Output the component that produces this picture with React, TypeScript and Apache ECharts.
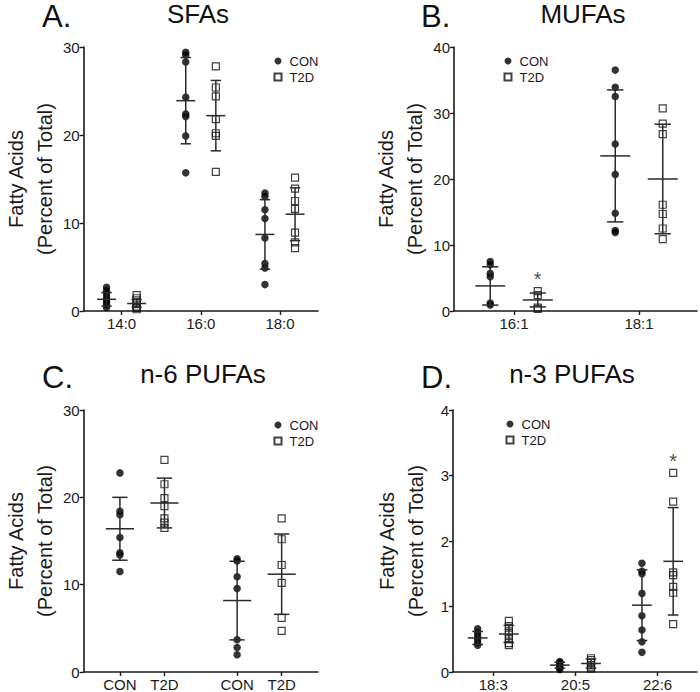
import React, { useEffect, useRef } from "react";
import * as echarts from "echarts";

// ---------- DATA ----------
// A. SFAs
const sfaCategories = ["14:0", "16:0", "18:0"];
const sfaCon = [
  [2.7, 2.3, 2.0, 1.6, 1.3, 1.0, 0.7, 0.4],
  [29.4, 29.1, 28.3, 24.3, 22.4, 22.1, 19.9, 15.7],
  [13.4, 13.0, 11.5, 10.5, 8.3, 5.4, 4.9, 3.0],
];
const sfaT2d = [
  [1.8, 1.45, 1.2, 0.9, 0.5, 0.35, 0.2],
  [27.8, 25.4, 24.4, 21.8, 20.2, 19.9, 15.8],
  [15.15, 13.9, 12.5, 11.6, 8.9, 7.8, 7.15],
];
const sfaConMean = [1.33, 23.9, 8.7];
const sfaConSd = [0.77, 4.9, 3.95];
const sfaT2dMean = [0.85, 22.2, 11.0];
const sfaT2dSd = [0.45, 4.0, 3.0];
const sfaT2dSignificant = [false, false, false];

// B. MUFAs
const mufaCategories = ["16:1", "18:1"];
const mufaCon = [
  [7.5, 7.0, 5.7, 5.2, 1.2, 0.9],
  [36.5, 33.9, 32.5, 25.3, 20.7, 14.8, 12.2, 11.9],
];
const mufaT2d = [
  [3.0, 2.4, 0.5, 0.3],
  [30.7, 28.4, 26.8, 16.1, 14.7, 12.5, 10.9],
];
const mufaConMean = [3.8, 23.5];
const mufaConSd = [2.9, 10.0];
const mufaT2dMean = [1.67, 20.0];
const mufaT2dSd = [1.05, 8.3];
const mufaT2dSignificant = [true, false];

// C. n-6 PUFAs (x labels are the group names under each column)
const n6Labels = ["CON", "T2D", "CON", "T2D"];
const n6Con = [
  [22.8, 18.4, 18.0, 15.4, 13.65, 13.4, 11.5],
  [12.97, 12.7, 10.9, 9.55, 3.7, 2.8, 1.97],
];
const n6T2d = [
  [24.3, 21.5, 19.9, 19.0, 17.6, 17.1, 16.5],
  [17.6, 15.2, 12.25, 10.2, 6.2, 4.7],
];
const n6ConMean = [16.4, 8.18];
const n6ConSd = [3.6, 4.5];
const n6T2dMean = [19.35, 11.2];
const n6T2dSd = [2.85, 4.6];
const n6T2dSignificant = [false, false];

// D. n-3 PUFAs
const n3Categories = ["18:3", "20:5", "22:6"];
const n3Con = [
  [0.66, 0.6, 0.55, 0.5, 0.45, 0.41],
  [0.16, 0.14, 0.11, 0.09, 0.06, 0.04],
  [1.66, 1.54, 1.5, 1.2, 0.86, 0.64, 0.46, 0.3],
];
const n3T2d = [
  [0.78, 0.7, 0.62, 0.57, 0.5, 0.44, 0.41],
  [0.21, 0.18, 0.14, 0.1, 0.07, 0.05],
  [3.04, 2.6, 1.52, 1.48, 1.3, 1.21, 0.73],
];
const n3ConMean = [0.52, 0.105, 1.02];
const n3ConSd = [0.1, 0.045, 0.54];
const n3T2dMean = [0.58, 0.13, 1.69];
const n3T2dSd = [0.13, 0.07, 0.82];
const n3T2dSignificant = [false, false, true];

// ---------- STYLE / LAYOUT ----------
const INK = "#1a1a1a";
const FONT = "Liberation Sans, Arial, sans-serif";
const X_OFF = 0.19;
const MEAN_HALF = 0.12;
const CAP_HALF = 0.065;

type PanelLayout = {
  left: number; top: number; width: number; height: number;
  xMin: number; xMax: number; yMax: number; yInt: number;
  legendLeft: number; legendTop: number;
  letter: string; lx: number; ly: number; title: string; tx: number; ty: number;
};

const layouts: PanelLayout[] = [
  { left: 72, top: 47, width: 246, height: 264, xMin: 0.52, xMax: 3.48, yMax: 30, yInt: 10,
    legendLeft: 273.5, legendTop: 54.5, letter: "A.", lx: 42, ly: 16, title: "SFAs", tx: 198, ty: 13.5 },
  { left: 454, top: 47, width: 243, height: 264, xMin: 0.52, xMax: 2.464, yMax: 40, yInt: 10,
    legendLeft: 503.5, legendTop: 54.5, letter: "B.", lx: 421, ly: 16, title: "MUFAs", tx: 583, ty: 13.5 },
  { left: 72, top: 410, width: 246, height: 263, xMin: 0.5, xMax: 2.5, yMax: 30, yInt: 10,
    legendLeft: 273.5, legendTop: 418.5, letter: "C.", lx: 42, ly: 377.5, title: "n-6 PUFAs", tx: 203, ty: 374 },
  { left: 453, top: 410, width: 244, height: 263, xMin: 0.51, xMax: 3.48, yMax: 4, yInt: 1,
    legendLeft: 505.5, legendTop: 417.5, letter: "D.", lx: 421, ly: 377.5, title: "n-3 PUFAs", tx: 572, ty: 374 },
];

type PanelData = {
  tickValues: number[]; tickLabels: string[];
  con: number[][]; t2d: number[][];
  conMean: number[]; conSd: number[]; t2dMean: number[]; t2dSd: number[];
  sig: boolean[];
};

const idx = (n: number) => Array.from({ length: n }, (_, i) => i + 1);

const panels: PanelData[] = [
  { tickValues: idx(sfaCategories.length), tickLabels: sfaCategories, con: sfaCon, t2d: sfaT2d,
    conMean: sfaConMean, conSd: sfaConSd, t2dMean: sfaT2dMean, t2dSd: sfaT2dSd, sig: sfaT2dSignificant },
  { tickValues: idx(mufaCategories.length), tickLabels: mufaCategories, con: mufaCon, t2d: mufaT2d,
    conMean: mufaConMean, conSd: mufaConSd, t2dMean: mufaT2dMean, t2dSd: mufaT2dSd, sig: mufaT2dSignificant },
  { tickValues: n6Con.flatMap((_, i) => [i + 1 - X_OFF, i + 1 + X_OFF]), tickLabels: n6Labels, con: n6Con, t2d: n6T2d,
    conMean: n6ConMean, conSd: n6ConSd, t2dMean: n6T2dMean, t2dSd: n6T2dSd, sig: n6T2dSignificant },
  { tickValues: idx(n3Categories.length), tickLabels: n3Categories, con: n3Con, t2d: n3T2d,
    conMean: n3ConMean, conSd: n3ConSd, t2dMean: n3T2dMean, t2dSd: n3T2dSd, sig: n3T2dSignificant },
];

const errorRender = (params: any, api: any) => {
  const x = api.value(0);
  const m = api.value(1);
  const sd = api.value(2);
  const top = api.coord([x, m + sd]);
  const bot = api.coord([x, m - sd]);
  const mid = api.coord([x, m]);
  const mh = api.size([MEAN_HALF, 0])[0];
  const ch = api.size([CAP_HALF, 0])[0];
  const st = { stroke: "#2a2a2a", lineWidth: 1.5 };
  return {
    type: "group",
    children: [
      { type: "line", shape: { x1: top[0], y1: top[1], x2: bot[0], y2: bot[1] }, style: st },
      { type: "line", shape: { x1: top[0] - ch, y1: top[1], x2: top[0] + ch, y2: top[1] }, style: st },
      { type: "line", shape: { x1: bot[0] - ch, y1: bot[1], x2: bot[0] + ch, y2: bot[1] }, style: st },
      { type: "line", shape: { x1: mid[0] - mh, y1: mid[1], x2: mid[0] + mh, y2: mid[1] }, style: st },
    ],
  };
};

function buildOption() {
  const grid: any[] = [];
  const xAxis: any[] = [];
  const yAxis: any[] = [];
  const series: any[] = [];
  const legend: any[] = [];
  const graphic: any[] = [];

  layouts.forEach((L, p) => {
    const D = panels[p];
    grid.push({ left: L.left, top: L.top, width: L.width, height: L.height, containLabel: false });
    xAxis.push({
      type: "value", gridIndex: p, min: L.xMin, max: L.xMax,
      axisLine: { show: true, onZero: false, lineStyle: { color: INK, width: 1.6 } },
      axisTick: { show: true, customValues: D.tickValues, length: 4, lineStyle: { color: INK, width: 1.4 } },
      axisLabel: {
        customValues: D.tickValues, margin: 5, fontSize: 15, color: INK, fontFamily: FONT,
        formatter: (v: number) => {
          const k = D.tickValues.findIndex((t) => Math.abs(t - v) < 1e-6);
          return k >= 0 ? D.tickLabels[k] : "";
        },
      },
      splitLine: { show: false },
    });
    yAxis.push({
      type: "value", gridIndex: p, min: 0, max: L.yMax, interval: L.yInt,
      axisLine: { show: true, lineStyle: { color: INK, width: 1.6 } },
      axisTick: { show: true, length: 4, lineStyle: { color: INK, width: 1.4 } },
      axisLabel: { fontSize: 15, color: INK, margin: 4, fontFamily: FONT },
      splitLine: { show: false },
      name: "Fatty Acids\n(Percent of Total)",
      nameLocation: "middle", nameRotate: 90, nameGap: 23,
      nameTextStyle: { fontSize: 20, lineHeight: 29, color: INK, fontFamily: FONT },
    });

    const conPts = D.con.flatMap((vals, i) => vals.map((v) => [i + 1 - X_OFF, v]));
    const t2dPts = D.t2d.flatMap((vals, i) => vals.map((v) => [i + 1 + X_OFF, v]));
    series.push({
      type: "scatter", name: "CON", xAxisIndex: p, yAxisIndex: p, data: conPts,
      symbol: "circle", symbolSize: 7.5, itemStyle: { color: "#000" }, z: 2,
    });
    series.push({
      type: "scatter", name: "T2D", xAxisIndex: p, yAxisIndex: p, data: t2dPts,
      symbol: "rect", symbolSize: 7,
      itemStyle: { color: "rgba(255,255,255,0)", borderColor: "#111", borderWidth: 1.2 }, z: 2,
    });
    series.push({
      type: "custom", xAxisIndex: p, yAxisIndex: p, renderItem: errorRender, z: 3,
      data: D.conMean.map((m, i) => [i + 1 - X_OFF, m, D.conSd[i]]),
    });
    series.push({
      type: "custom", xAxisIndex: p, yAxisIndex: p, renderItem: errorRender, z: 3,
      data: D.t2dMean.map((m, i) => [i + 1 + X_OFF, m, D.t2dSd[i]]),
    });
    const stars = D.sig
      .map((s, i) => (s ? [i + 1 + X_OFF, Math.max(...D.t2d[i])] : null))
      .filter((d) => d !== null);
    if (stars.length) {
      series.push({
        type: "scatter", xAxisIndex: p, yAxisIndex: p, data: stars, symbolSize: 0,
        silent: true,
        label: { show: true, formatter: "*", position: "inside", offset: [0, -12], fontSize: 20, color: INK, fontFamily: FONT },
      });
    }
    legend.push({
      orient: "vertical", left: L.legendLeft, top: L.legendTop, padding: 0,
      itemWidth: 7, itemHeight: 7, itemGap: 3, selectedMode: false,
      textStyle: { fontSize: 13, color: INK, fontFamily: FONT, padding: [0, 0, 0, 3] },
      data: [{ name: "CON", icon: "circle" }, { name: "T2D", icon: "rect" }],
    });
    graphic.push({
      type: "text", x: L.lx, y: L.ly,
      style: { text: L.letter, fontSize: 31, lineHeight: 26, fill: "#111", fontFamily: FONT, align: "left", verticalAlign: "middle" },
    });
    graphic.push({
      type: "text", x: L.tx, y: L.ty,
      style: { text: L.title, fontSize: 26, lineHeight: 22, fill: "#111", fontFamily: FONT, align: "center", verticalAlign: "middle" },
    });
  });

  return { animation: false, backgroundColor: "#fff", grid, xAxis, yAxis, series, legend, graphic };
}

export default function App() {
  const ref = useRef<HTMLDivElement>(null);
  useEffect(() => {
    if (!ref.current) return;
    const chart = echarts.init(ref.current, undefined, { renderer: "svg" });
    chart.setOption(buildOption() as any);
    return () => chart.dispose();
  }, []);
  return (
    <div
      ref={ref}
      style={{ position: "absolute", left: 0, top: 0, width: 700, height: 692, background: "#fff" }}
    />
  );
}
